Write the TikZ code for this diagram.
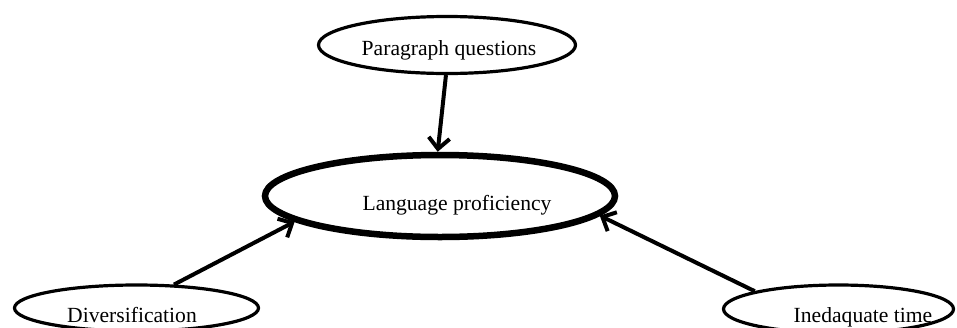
\documentclass[tikz,border=0pt]{standalone}
\usepackage{fontspec}
\setmainfont{Liberation Serif}
\usetikzlibrary{shapes.geometric, arrows.meta, positioning}
\tikzset{
    factor/.style={
        ellipse, draw=black, line width=3.2pt,
        inner sep=0pt, fill=white
    },
    outcome/.style={
        ellipse, draw=black, line width=6.5pt,
        inner sep=0pt, fill=white
    },
    caption/.style={
        anchor=base, inner sep=0pt,
        font=\fontsize{21.6}{26}\selectfont
    },
    effect/.style={draw=black, line width=4pt,
        -{Straight Barb[length=11pt, width=21pt]}}
}

\begin{document}
\begin{tikzpicture}[x=1pt, y=-1pt]
\clip (0,0) rectangle (957,327);

% Top factor
\node[factor, minimum width=257pt, minimum height=57pt] (para) at (447,45) {};
\node[caption] (para_text) at (449,55) {Paragraph questions};

% Centre: outcome
\node[outcome, minimum width=350pt, minimum height=82pt] (lang) at (440,196) {};
\node[caption] (lang_text) at (457,210) {Language proficiency};

% Bottom factors
\node[factor, minimum width=244pt, minimum height=46pt] (div) at (136.5,308) {};
\node[caption] (div_text) at (132,322) {Diversification};

\node[factor, minimum width=230pt, minimum height=48pt] (time) at (838.5,309) {};
\node[caption] (time_text) at (863,322) {Inedaquate time};

% Effects
\draw[effect] (para.-92) -- (lang.93);
\draw[effect] (div.32) -- (lang.190);
\draw[effect] (time.168) -- (lang.-7);

\end{tikzpicture}
\end{document}
